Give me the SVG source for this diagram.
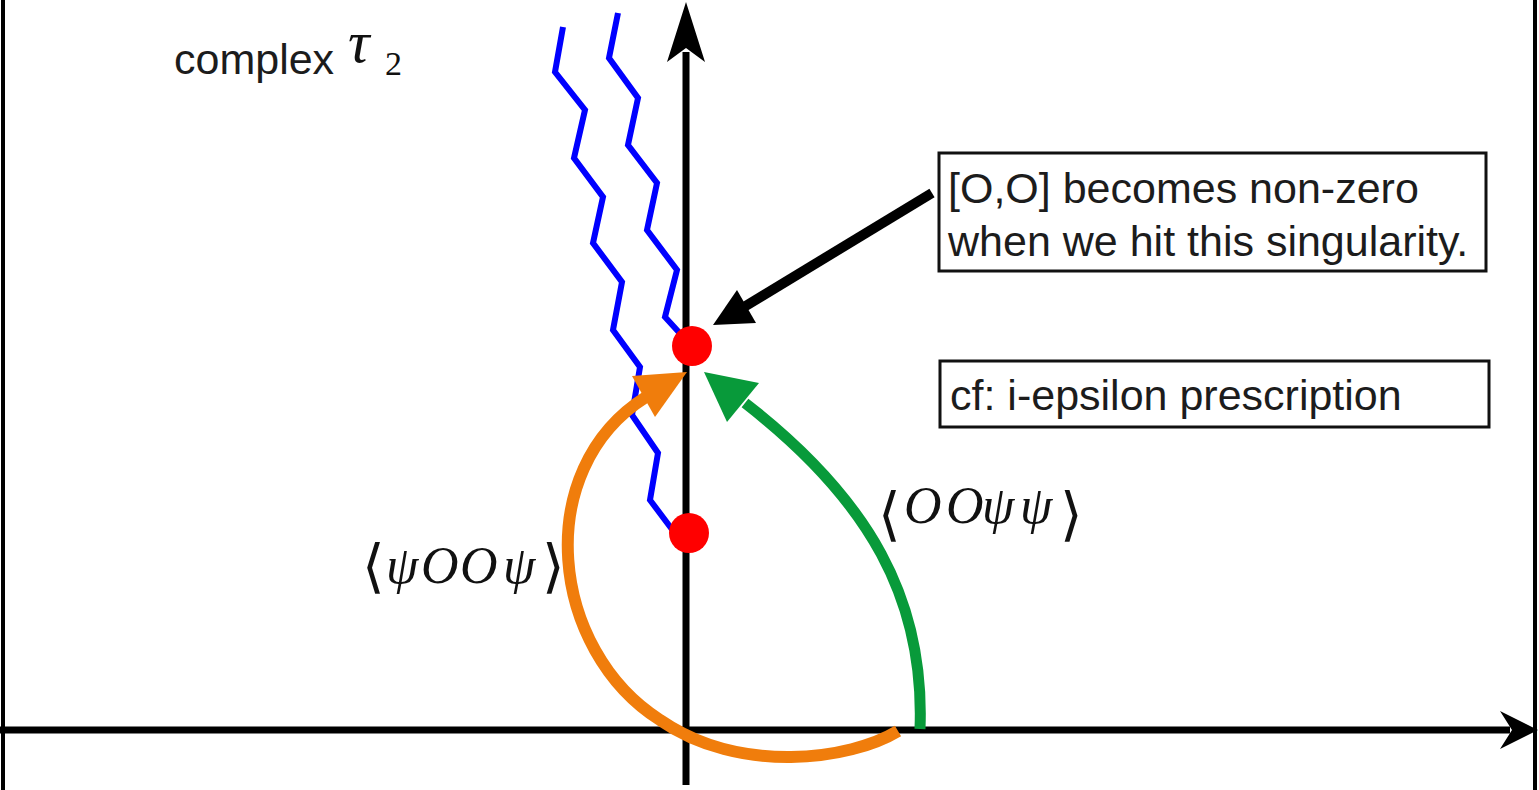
<svg xmlns="http://www.w3.org/2000/svg" width="1539" height="790" viewBox="0 0 1539 790">
<style>
.txt{font-family:"Liberation Sans",Arial,sans-serif;font-size:43px;fill:#1c1c1c}
.math{font-family:"Liberation Serif","DejaVu Serif",serif;font-style:italic;fill:#111}
.up{font-style:normal}
.br{font-family:"DejaVu Serif",serif;font-style:normal;font-weight:300}
.cut{stroke:#0000FF;stroke-width:6;fill:none;stroke-linejoin:miter}
.dot{fill:#FF0000}
.box{fill:#fff;stroke:#111;stroke-width:3}
.axis{stroke:#000;stroke-width:7;fill:none}
</style>
<rect width="1539" height="790" fill="#fff"/>
<g id="frame">
<line x1="3" y1="0" x2="3" y2="790" stroke="#000" stroke-width="4"/>
<line x1="1535" y1="0" x2="1535" y2="790" stroke="#000" stroke-width="4"/>
</g>
<g id="axes">
<line class="axis" x1="0" y1="730" x2="1510" y2="730" stroke-width="6"/>
<polygon points="1538,730 1500,711 1512,730 1500,749" fill="#000"/>
<line class="axis" x1="686" y1="785" x2="686" y2="52"/>
<polygon points="686,2 667,62 686,48 705,62" fill="#000"/>
</g>
<g id="branch-cuts">
<polyline class="cut" points="563,27 555,72 585,110 574,158 603,197 593,243 622,282 613,330 640,367 632,415 658,453 650,500 674,532"/>
<polyline class="cut" points="618,13 609,58 638,98 628,145 657,183 647,230 677,270 665,317 686,340"/>
</g>
<g id="singularities">
<circle class="dot" cx="692" cy="346" r="20"/>
<circle class="dot" cx="689" cy="533" r="20"/>
</g>
<g id="connectors">
<line x1="932" y1="193" x2="744" y2="307" stroke="#000" stroke-width="10"/>
<polygon points="713,325 737,290 756,323" fill="#000"/>
<path d="M 898 731 C 850 760, 740 775, 660 720 C 550 650, 530 470, 646 397" fill="none" stroke="#F07D0C" stroke-width="12"/>
<polygon points="687,372 632,376 655,417" fill="#F07D0C"/>
<path d="M 920 729 C 925 600, 870 500, 745 403" fill="none" stroke="#089A3A" stroke-width="11"/>
<polygon points="704,372 759,383 727,422" fill="#089A3A"/>
</g>
<g id="title">
<text class="txt" x="174" y="74" font-size="44">complex<tspan class="math" x="348" y="62" font-size="60">τ</tspan><tspan class="math up" x="385" y="75" font-size="34">2</tspan></text>
</g>
<g id="note-commutator">
<rect class="box" x="939" y="153" width="547" height="118"/>
<text class="txt" x="948" y="203">[O,O] becomes non-zero</text>
<text class="txt" x="948" y="256">when we hit this singularity.</text>
</g>
<g id="note-iepsilon">
<rect class="box" x="940" y="361" width="549" height="66"/>
<text class="txt" x="950" y="410">cf: i-epsilon prescription</text>
</g>
<g id="label-psiOOpsi">
<text class="math" font-size="52"><tspan class="br" x="362" y="586" font-size="58">⟨</tspan><tspan x="386" y="583">ψ</tspan><tspan x="421" y="583">O</tspan><tspan x="460" y="583">O</tspan><tspan x="503" y="583">ψ</tspan><tspan class="br" x="542" y="586" font-size="58">⟩</tspan></text>
</g>
<g id="label-OOpsipsi">
<text class="math" font-size="52"><tspan class="br" x="878" y="534" font-size="58">⟨</tspan><tspan x="904" y="523">O</tspan><tspan x="946" y="523">O</tspan><tspan x="982" y="523">ψ</tspan><tspan x="1020" y="523">ψ</tspan><tspan class="br" x="1060" y="534" font-size="58">⟩</tspan></text>
</g>
</svg>
